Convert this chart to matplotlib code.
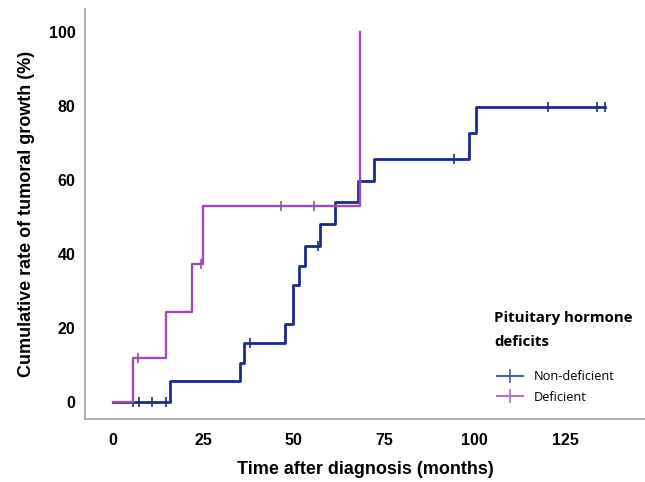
import numpy as np
import matplotlib.pyplot as plt
from matplotlib.lines import Line2D

# --- Data ---
# step curves: event times (months) and cumulative rate after each step (%)
nondef_times = [0, 15.8, 35.0, 36.1, 47.6, 49.7, 51.5, 53.0, 57.1, 61.5, 67.8, 72.2, 98.5, 100.4, 135.9]
nondef_rates = [0, 5.7, 10.4, 15.8, 21.0, 31.6, 36.8, 42.2, 48.0, 54.0, 59.8, 65.6, 72.7, 79.7, 79.7]
nondef_censor_t = [5.7, 7.3, 10.9, 14.6, 37.8, 56.8, 94.2, 120.1, 133.7, 135.9]

def_times = [0, 5.7, 14.7, 22.0, 24.8, 68.4]
def_rates = [0, 11.8, 24.4, 37.2, 53.1, 100.0]
def_censor_t = [6.9, 24.3, 46.4, 55.6]

x_ticks = [0, 25, 50, 75, 100, 125]
y_ticks = [0, 20, 40, 60, 80, 100]

blue = "#1d2b88"
purple = "#9a4eb3"
blue_leg = "#4b5fa6"
purple_leg = "#b175c8"


def level_at(times, rates, t):
    # value of a post-step curve at time t
    idx = np.searchsorted(times, t, side="right") - 1
    return rates[max(idx, 0)]


plt.rcParams["font.family"] = ["Liberation Sans", "DejaVu Sans"]

fig = plt.figure(figsize=(6.45, 4.82), dpi=100)
ax = fig.add_axes([0.132, 0.130, 0.868, 0.851])

ax.step(nondef_times, nondef_rates, where="post", color=blue, linewidth=2.0, zorder=3)
ax.plot(nondef_censor_t, [level_at(nondef_times, nondef_rates, t) for t in nondef_censor_t],
        linestyle="none", marker="|", markersize=7, markeredgewidth=1.2, color=blue, zorder=3)

ax.step(def_times, def_rates, where="post", color=purple, linewidth=1.7, zorder=4)
ax.plot(def_censor_t, [level_at(def_times, def_rates, t) for t in def_censor_t],
        linestyle="none", marker="|", markersize=7, markeredgewidth=1.2, color=purple, zorder=4)

ax.set_xlim(-7.65, 147)
ax.set_ylim(-4.76, 106.3)
ax.set_xticks(x_ticks)
ax.set_yticks(y_ticks)
ax.tick_params(axis="both", length=0, labelsize=11.5)
ax.tick_params(axis="x", pad=10)
ax.tick_params(axis="y", pad=7)
for lab in ax.get_xticklabels() + ax.get_yticklabels():
    lab.set_fontweight("bold")

for side in ["top", "right"]:
    ax.spines[side].set_visible(False)
for side in ["left", "bottom"]:
    ax.spines[side].set_color("#a8a8a8")
    ax.spines[side].set_linewidth(1.3)

ax.set_xlabel("Time after diagnosis (months)", fontsize=13, fontweight="bold", labelpad=9)
ax.set_ylabel("Cumulative rate of tumoral growth (%)", fontsize=13, fontweight="bold", labelpad=10)

# legend title drawn as its own text (wider spacing than a legend title allows)
fig.text(494 / 645, 1 - 318 / 482, "Pituitary hormone", family="Open Sans", fontsize=10.8,
         fontweight="bold", ha="left", va="center")
fig.text(494 / 645, 1 - 342 / 482, "deficits", family="Open Sans", fontsize=10.8,
         fontweight="bold", ha="left", va="center")

handles = [
    Line2D([], [], color=blue_leg, linewidth=1.5, marker="|", markersize=10, markeredgewidth=1.2),
    Line2D([], [], color=purple_leg, linewidth=1.5, marker="|", markersize=10, markeredgewidth=1.2),
]
ax.legend(handles, ["Non-deficient", "Deficient"],
          loc="upper left", bbox_to_anchor=(497 / 645, 1 - 370 / 482), bbox_transform=fig.transFigure,
          frameon=False, borderpad=0, borderaxespad=0, handlelength=2.0, handletextpad=0.9,
          labelspacing=0.6, prop={"family": "Open Sans", "size": 9.2})

fig.savefig("out.png", dpi=100)
